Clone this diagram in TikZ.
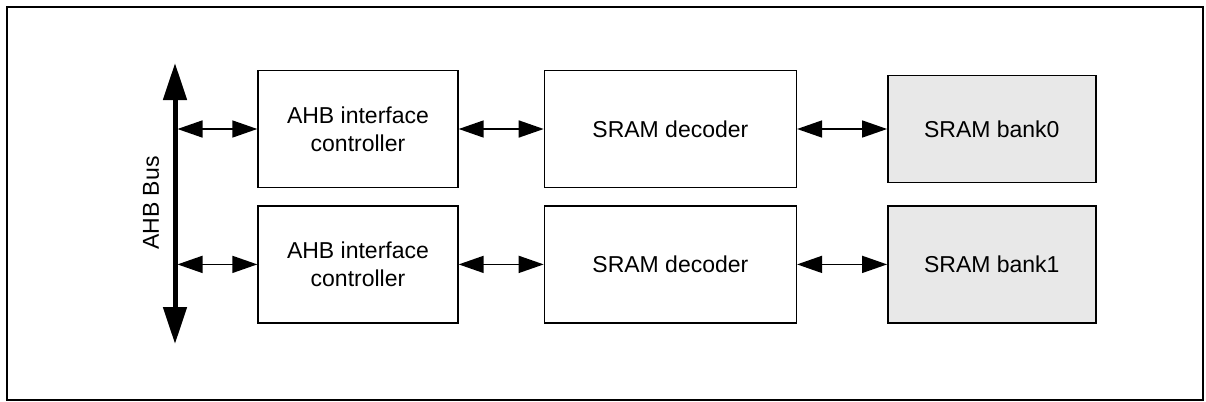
\documentclass[tikz,border=0pt]{standalone}
\usepackage{fontspec}
\setmainfont{Liberation Sans}
\usetikzlibrary{arrows.meta,positioning}
\tikzset{
blockdiag/.style={x=0.5pt,y=-0.5pt,node distance=8.5pt and 42.5pt,
    font=\fontsize{11.5}{13.8}\selectfont},
block/.style={draw,line width=0.7pt,minimum width=100pt,minimum height=58.5pt,
    align=center,inner sep=0pt},
decoder/.style={block,minimum width=126pt},
bank/.style={block,minimum width=104pt,fill=gray!18},
link/.style={{Triangle[length=12.5pt,width=8.5pt]}-{Triangle[length=12.5pt,width=8.5pt]},
    line width=0.8pt},
bus/.style={{Triangle[length=18.5pt,width=11.5pt]}-{Triangle[length=18.5pt,width=11.5pt]},
    line width=2.5pt},
}

\begin{document}
\begin{tikzpicture}[blockdiag]

    \useasboundingbox (0,0) rectangle (1206,402);
    \draw[line width=0.9pt] (7,7) rectangle (1203,400);

    \coordinate (bustop) at (175,63);
    \coordinate (busbot) at (175,344);
    \node[rotate=90] (buslabel) at (151,203) {AHB Bus};

    \node[block] (ahb1) at (358,129) {AHB interface\\controller};
    \node[decoder] (dec1) [right=of ahb1] {SRAM decoder};
    \node[bank,minimum height=53.5pt] (bank0) [right=45pt of dec1] {SRAM bank0};
    \node[block] (ahb2) [below=of ahb1] {AHB interface\\controller};
    \node[decoder] (dec2) [right=of ahb2] {SRAM decoder};
    \node[bank] (bank1) [right=45pt of dec2] {SRAM bank1};

    \draw[bus] (bustop) -- (busbot);

    \path[link]
        (bustop |- ahb1.west) edge[shorten <=1.25pt] (ahb1.west)
        (bustop |- ahb2.west) edge[shorten <=1.25pt] (ahb2.west)
        (ahb1) edge (dec1)
        (ahb2) edge (dec2)
        (dec1) edge (bank0)
        (dec2) edge (bank1)
    ;
\end{tikzpicture}
\end{document}
